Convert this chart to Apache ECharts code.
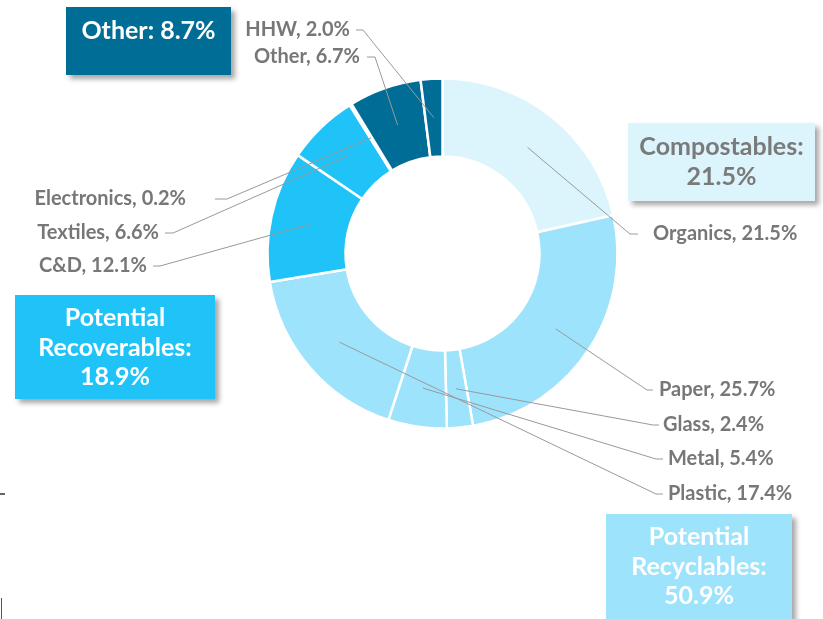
<!DOCTYPE html>
<html>
<head>
<meta charset="utf-8">
<script src="https://cdn.jsdelivr.net/npm/echarts@6/dist/echarts.min.js"></script>
<style>
  html, body { margin: 0; padding: 0; background: #ffffff; }
  #chart { width: 823px; height: 619px; }
</style>
</head>
<body>
<div id="chart"></div>
<script>
// Waste composition by material (percent of total)
const categories = ['Organics', 'Paper', 'Glass', 'Metal', 'Plastic', 'C&D', 'Textiles', 'Electronics', 'Other', 'HHW'];
const shares = [21.5, 25.7, 2.4, 5.4, 17.4, 12.1, 6.6, 0.2, 6.7, 2.0];

// Each material belongs to one summary group
const groupNames = ['Compostables', 'Potential Recyclables', 'Potential Recoverables', 'Other'];
const groupOf = [0, 1, 1, 1, 1, 2, 2, 2, 3, 3];

// Styling
const groupColors = ['#dcf4fc', '#9de3fb', '#1fc3f7', '#006d96'];
const labelGrey = '#777777';
const font = 'Lato, "Open Sans", sans-serif';

const pieCenter = [442.5, 253.5];
const pieRadius = [97, 175];

// Label anchor per material: [x, y, align, lineEndX, elbowX]
const labelSpots = [
  [653, 234, 'left', 638, 630],
  [659, 390, 'left', 653, 647],
  [663, 425, 'left', 659, 653],
  [668, 459, 'left', 663, 656],
  [668, 494, 'left', 663, 656],
  [147, 266, 'right', 153, 160],
  [159, 233, 'right', 165, 173],
  [186, 199, 'right', 215, 227],
  [360, 57, 'right', 367, 375],
  [350, 30, 'right', 356, 363]
];

// Summary boxes: [group, x, y, width, height, fill, text colour, title lines, text top y, line height]
const boxes = [
  [3, 66, 7, 165, 68, '#006d96', '#ffffff', ['Other:'], 31, 30],
  [0, 628, 123, 187, 78, '#dcf4fc', '#7a7a7a', ['Compostables:'], 147, 30],
  [2, 15, 295, 200, 104, '#1fc3f7', '#ffffff', ['Potential', 'Recoverables:'], 318, 29.5],
  [1, 606, 514, 186, 110, '#9de3fb', '#ffffff', ['Potential', 'Recyclables:'], 537, 29.5]
];

const total = shares.reduce((a, b) => a + b, 0);
const groupTotals = groupNames.map((_, g) =>
  shares.reduce((s, v, i) => s + (groupOf[i] === g ? v : 0), 0));

// Point in the middle of the ring at a slice's mid angle
function ringMidPoint(index) {
  let before = 0;
  for (let i = 0; i < index; i++) before += shares[i];
  const frac = (before + shares[index] / 2) / total;
  const a = frac * 2 * Math.PI;
  const r = (pieRadius[0] + pieRadius[1]) / 2;
  return [pieCenter[0] + r * Math.sin(a), pieCenter[1] - r * Math.cos(a)];
}

const graphics = [];
boxes.forEach(b => {
  const [g, x, y, w, h, fill, color, lines, ty, lh] = b;
  graphics.push({
    type: 'rect',
    shape: { x: x, y: y, width: w, height: h },
    style: {
      fill: fill,
      shadowBlur: 5,
      shadowOffsetX: 4,
      shadowOffsetY: 4,
      shadowColor: 'rgba(0,0,0,0.35)'
    },
    z: 10
  });
  const pct = groupTotals[g].toFixed(1) + '%';
  const allLines = lines.length === 1 && g === 3
    ? [lines[0] + ' ' + pct]
    : lines.concat([pct]);
  allLines.forEach((t, k) => {
    graphics.push({
      type: 'text',
      x: x + w / 2,
      y: ty + k * lh,
      style: {
        text: t,
        fill: color,
        font: 'bold 25px ' + font,
        textAlign: 'center',
        textVerticalAlign: 'middle'
      },
      z: 11
    });
  });
});

// Small marks along the left edge
graphics.push({
  type: 'line', shape: { x1: 0, y1: 494, x2: 5, y2: 494 },
  style: { stroke: '#333333', lineWidth: 1.5 }
});
graphics.push({
  type: 'line', shape: { x1: 1.5, y1: 598, x2: 1.5, y2: 619 },
  style: { stroke: '#555555', lineWidth: 1 }
});

const pieData = categories.map((name, i) => ({
  name: name,
  value: shares[i],
  itemStyle: { color: groupColors[groupOf[i]] }
}));

const chart = echarts.init(document.getElementById('chart'), null, { renderer: 'canvas' });
chart.setOption({
  backgroundColor: '#ffffff',
  animation: false,
  graphic: graphics,
  series: [
    {
      // The coloured ring
      type: 'pie',
      z: 2,
      center: pieCenter,
      radius: pieRadius,
      startAngle: 90,
      clockwise: true,
      silent: true,
      itemStyle: { borderColor: '#ffffff', borderWidth: 2.5 },
      emphasis: { disabled: true },
      label: { show: false },
      labelLine: { show: false },
      data: pieData
    },
    {
      // Same slices, transparent, carrying the labels and leader lines above the ring
      type: 'pie',
      z: 5,
      center: pieCenter,
      radius: pieRadius,
      startAngle: 90,
      clockwise: true,
      silent: true,
      avoidLabelOverlap: false,
      itemStyle: { color: 'rgba(0,0,0,0)', borderWidth: 0 },
      emphasis: { disabled: true },
      data: categories.map((name, i) => ({ name: name, value: shares[i] })),
      label: {
        show: true,
        position: 'outside',
        color: labelGrey,
        fontFamily: font,
        fontWeight: 'bold',
        fontSize: 20,
        formatter: p => p.name + ', ' + shares[p.dataIndex].toFixed(1) + '%'
      },
      labelLine: {
        show: true,
        lineStyle: { color: '#9a9a9a', width: 1 }
      },
      labelLayout: params => {
        const s = labelSpots[params.dataIndex];
        return {
          x: s[0],
          y: s[1],
          align: s[2],
          verticalAlign: 'middle',
          labelLinePoints: [ringMidPoint(params.dataIndex), [s[4], s[1]], [s[3], s[1]]]
        };
      }
    }
  ]
});
</script>
</body>
</html>
